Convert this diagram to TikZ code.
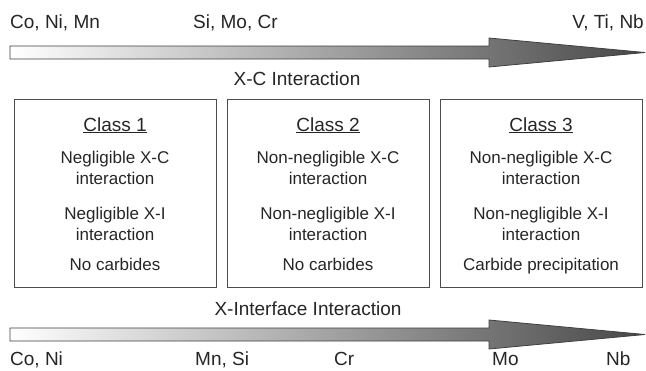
\documentclass[tikz,border=0pt]{standalone}
\usepackage{fontspec}
\setmainfont{Liberation Sans}
\begin{document}
\begin{tikzpicture}[x=1pt,y=-1pt,
  lbl/.style={inner sep=0pt, text=black!85, font=\fontsize{19}{22}\selectfont},
  ttl/.style={inner sep=0pt, text=black!85, anchor=base, font=\fontsize{19}{22}\selectfont},
  body/.style={inner sep=0pt, text=black!85, anchor=base, font=\fontsize{17}{20}\selectfont},
  classbox/.style={draw=black!70, line width=0.9pt, minimum width=202pt, minimum height=188pt, inner sep=0pt},
  bigarrow/.style={left color=white, middle color=black!25, right color=black!72, draw=black!75, line width=0.8pt}]
\useasboundingbox[fill=white] (0,0) rectangle (646,370);

% top arrow
\shade[bigarrow] (10,46) -- (489,46) -- (489,38) -- (645,52.5) -- (489,67) -- (489,59) -- (10,59) -- cycle;
\node[lbl, anchor=base west] (t1) at (10,28) {Co, Ni, Mn};
\node[lbl, anchor=base west] (t2) at (193,28) {Si, Mo, Cr};
\node[lbl, anchor=base east] (t3) at (644,28) {V, Ti, Nb};
\node[lbl, anchor=base] (xc) at (297,85) {X-C Interaction};

% boxes
\node[classbox] (b1) at (115,193) {};
\node[classbox] (b2) at (328,193) {};
\node[classbox] (b3) at (541,193) {};

% class 1
\node[ttl] (c1t) at (115,131) {\underline{Class 1}};
\node[body] (c1a) at (115,163) {Negligible X-C};
\node[body] (c1b) at (115,184) {interaction};
\node[body] (c1c) at (115,219) {Negligible X-I};
\node[body] (c1d) at (115,240) {interaction};
\node[body] (c1e) at (115,270) {No carbides};

% class 2
\node[ttl] (c2t) at (328,131) {\underline{Class 2}};
\node[body] (c2a) at (328,163) {Non-negligible X-C};
\node[body] (c2b) at (328,184) {interaction};
\node[body] (c2c) at (328,219) {Non-negligible X-I};
\node[body] (c2d) at (328,240) {interaction};
\node[body] (c2e) at (328,270) {No carbides};

% class 3
\node[ttl] (c3t) at (541,131) {\underline{Class 3}};
\node[body] (c3a) at (541,163) {Non-negligible X-C};
\node[body] (c3b) at (541,184) {interaction};
\node[body] (c3c) at (541,219) {Non-negligible X-I};
\node[body] (c3d) at (541,240) {interaction};
\node[body] (c3e) at (541,270) {Carbide precipitation};

% bottom arrow
\node[lbl, anchor=base] (xi) at (308,315) {X-Interface Interaction};
\shade[bigarrow] (10,328) -- (489,328) -- (489,320) -- (645,334.5) -- (489,349) -- (489,341) -- (10,341) -- cycle;
\node[lbl, anchor=base west] (u1) at (10,365) {Co, Ni};
\node[lbl, anchor=base west] (u2) at (195,365) {Mn, Si};
\node[lbl, anchor=base west] (u3) at (334,365) {Cr};
\node[lbl, anchor=base west] (u4) at (492,365) {Mo};
\node[lbl, anchor=base west] (u5) at (606,365) {Nb};
\end{tikzpicture}
\end{document}
